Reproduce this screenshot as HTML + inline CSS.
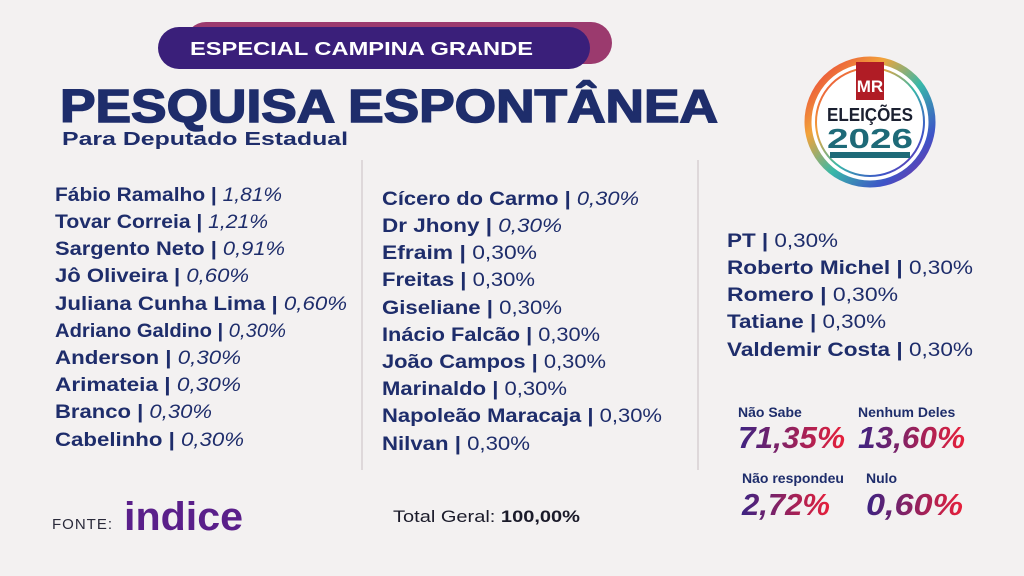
<!DOCTYPE html><html><head><meta charset="utf-8"><style>
body{margin:0;background:#f3f1f1;}
svg{display:block;font-family:"Liberation Sans",sans-serif;}
.n{font-weight:bold;fill:#1e2d6b;font-size:19px}
.p{font-style:italic;font-weight:normal}
</style></head><body>
<svg width="1024" height="576" viewBox="0 0 1024 576">
<defs>
<linearGradient id="g" x1="0" x2="1"><stop offset="0" stop-color="#3b2383"/><stop offset="1" stop-color="#e8203a"/></linearGradient>
<linearGradient id="r" x1="0" y1="0" x2="1" y2="1"><stop offset="0" stop-color="#e8313a"/><stop offset="0.3" stop-color="#f2a33a"/><stop offset="0.55" stop-color="#38b8a8"/><stop offset="0.8" stop-color="#3d54c8"/><stop offset="1" stop-color="#8a2a9a"/></linearGradient>
</defs>
<rect width="1024" height="576" fill="#f3f1f1"/>
<rect x="185" y="22" width="427" height="42" rx="21" fill="#9b3a6e"/>
<rect x="158" y="27" width="432" height="42" rx="21" fill="#3a1f7a"/>
<text x="190" y="55" font-size="18" font-weight="bold" fill="#fff" textLength="343" lengthAdjust="spacingAndGlyphs">ESPECIAL CAMPINA GRANDE</text>
<text x="60" y="122" font-size="46" font-weight="900" fill="#1e2d6b" stroke="#1e2d6b" stroke-width="1.5" textLength="658" lengthAdjust="spacingAndGlyphs">PESQUISA ESPONTÂNEA</text>
<text x="62" y="145" font-size="18" font-weight="bold" fill="#1e2d6b" textLength="286" lengthAdjust="spacingAndGlyphs">Para Deputado Estadual</text>
<line x1="362" y1="160" x2="362" y2="470" stroke="#d8cfd3" stroke-width="1.5"/>
<line x1="698" y1="160" x2="698" y2="470" stroke="#d8cfd3" stroke-width="1.5"/>
<g class="n" lengthAdjust="spacingAndGlyphs">
<text x="55" y="201" textLength="227" lengthAdjust="spacingAndGlyphs">Fábio Ramalho | <tspan class="p">1,81%</tspan></text>
<text x="55" y="228" textLength="213" lengthAdjust="spacingAndGlyphs">Tovar Correia  | <tspan class="p">1,21%</tspan></text>
<text x="55" y="255" textLength="230" lengthAdjust="spacingAndGlyphs">Sargento Neto | <tspan class="p">0,91%</tspan></text>
<text x="55" y="282" textLength="194" lengthAdjust="spacingAndGlyphs">Jô Oliveira | <tspan class="p">0,60%</tspan></text>
<text x="55" y="310" textLength="292" lengthAdjust="spacingAndGlyphs">Juliana Cunha Lima  | <tspan class="p">0,60%</tspan></text>
<text x="55" y="337" textLength="231" lengthAdjust="spacingAndGlyphs">Adriano Galdino | <tspan class="p">0,30%</tspan></text>
<text x="55" y="364" textLength="186" lengthAdjust="spacingAndGlyphs">Anderson | <tspan class="p">0,30%</tspan></text>
<text x="55" y="391" textLength="186" lengthAdjust="spacingAndGlyphs">Arimateia | <tspan class="p">0,30%</tspan></text>
<text x="55" y="418" textLength="157" lengthAdjust="spacingAndGlyphs">Branco | <tspan class="p">0,30%</tspan></text>
<text x="55" y="446" textLength="189" lengthAdjust="spacingAndGlyphs">Cabelinho | <tspan class="p">0,30%</tspan></text>
<text x="382" y="205" textLength="257" lengthAdjust="spacingAndGlyphs">Cícero do Carmo | <tspan class="p">0,30%</tspan></text>
<text x="382" y="232" textLength="180" lengthAdjust="spacingAndGlyphs">Dr Jhony  | <tspan class="p">0,30%</tspan></text>
<text x="382" y="259" textLength="155" lengthAdjust="spacingAndGlyphs">Efraim  | <tspan font-weight="normal">0,30%</tspan></text>
<text x="382" y="286" textLength="153" lengthAdjust="spacingAndGlyphs">Freitas | <tspan font-weight="normal">0,30%</tspan></text>
<text x="382" y="314" textLength="180" lengthAdjust="spacingAndGlyphs">Giseliane  | <tspan font-weight="normal">0,30%</tspan></text>
<text x="382" y="341" textLength="218" lengthAdjust="spacingAndGlyphs">Inácio Falcão | <tspan font-weight="normal">0,30%</tspan></text>
<text x="382" y="368" textLength="224" lengthAdjust="spacingAndGlyphs">João Campos | <tspan font-weight="normal">0,30%</tspan></text>
<text x="382" y="395" textLength="185" lengthAdjust="spacingAndGlyphs">Marinaldo | <tspan font-weight="normal">0,30%</tspan></text>
<text x="382" y="422" textLength="280" lengthAdjust="spacingAndGlyphs">Napoleão Maracaja | <tspan font-weight="normal">0,30%</tspan></text>
<text x="382" y="450" textLength="148" lengthAdjust="spacingAndGlyphs">Nilvan | <tspan font-weight="normal">0,30%</tspan></text>
<text x="727" y="247" textLength="111" lengthAdjust="spacingAndGlyphs">PT | <tspan font-weight="normal">0,30%</tspan></text>
<text x="727" y="274" textLength="246" lengthAdjust="spacingAndGlyphs">Roberto Michel  | <tspan font-weight="normal">0,30%</tspan></text>
<text x="727" y="301" textLength="171" lengthAdjust="spacingAndGlyphs">Romero  | <tspan font-weight="normal">0,30%</tspan></text>
<text x="727" y="328" textLength="159" lengthAdjust="spacingAndGlyphs">Tatiane | <tspan font-weight="normal">0,30%</tspan></text>
<text x="727" y="356" textLength="246" lengthAdjust="spacingAndGlyphs">Valdemir Costa  | <tspan font-weight="normal">0,30%</tspan></text>
</g>
<g font-weight="bold" fill="#1e2d6b" font-size="14">
<text x="738" y="417">Não Sabe</text>
<text x="858" y="417">Nenhum Deles</text>
<text x="742" y="483">Não respondeu</text>
<text x="866" y="483">Nulo</text>
</g>
<g font-weight="900" font-style="italic" font-size="31" fill="url(#g)">
<text x="738" y="448" textLength="107" lengthAdjust="spacingAndGlyphs">71,35%</text>
<text x="858" y="448" textLength="107" lengthAdjust="spacingAndGlyphs">13,60%</text>
<text x="742" y="515" textLength="88" lengthAdjust="spacingAndGlyphs">2,72%</text>
<text x="866" y="515" textLength="97" lengthAdjust="spacingAndGlyphs">0,60%</text>
</g>
<circle cx="870" cy="122" r="62" fill="#fff" stroke="url(#r)" stroke-width="7"/>
<circle cx="870" cy="122" r="54" fill="none" stroke="url(#r)" stroke-width="2"/>
<rect x="856" y="62" width="28" height="38" fill="#b01c25"/>
<text x="870" y="92" text-anchor="middle" font-size="17" font-weight="bold" fill="#fff">MR</text>
<text x="870" y="121" text-anchor="middle" font-size="18" font-weight="bold" fill="#1b2030" textLength="86" lengthAdjust="spacingAndGlyphs">ELEIÇÕES</text>
<text x="870" y="148" text-anchor="middle" font-size="28" font-weight="bold" fill="#1e6a78" textLength="86" lengthAdjust="spacingAndGlyphs">2026</text>
<rect x="830" y="152" width="80" height="6" fill="#1e6a78"/>
<text x="52" y="529" font-size="15" fill="#2a2a3a" letter-spacing="1">FONTE:</text>
<text x="124" y="530" font-size="40" font-weight="bold" fill="#5a1f8a" textLength="119" lengthAdjust="spacingAndGlyphs">indice</text>
<text x="393" y="522" font-size="17" fill="#1b1b2a" textLength="187" lengthAdjust="spacingAndGlyphs">Total Geral: <tspan font-weight="bold">100,00%</tspan></text>
</svg>
</body></html>
